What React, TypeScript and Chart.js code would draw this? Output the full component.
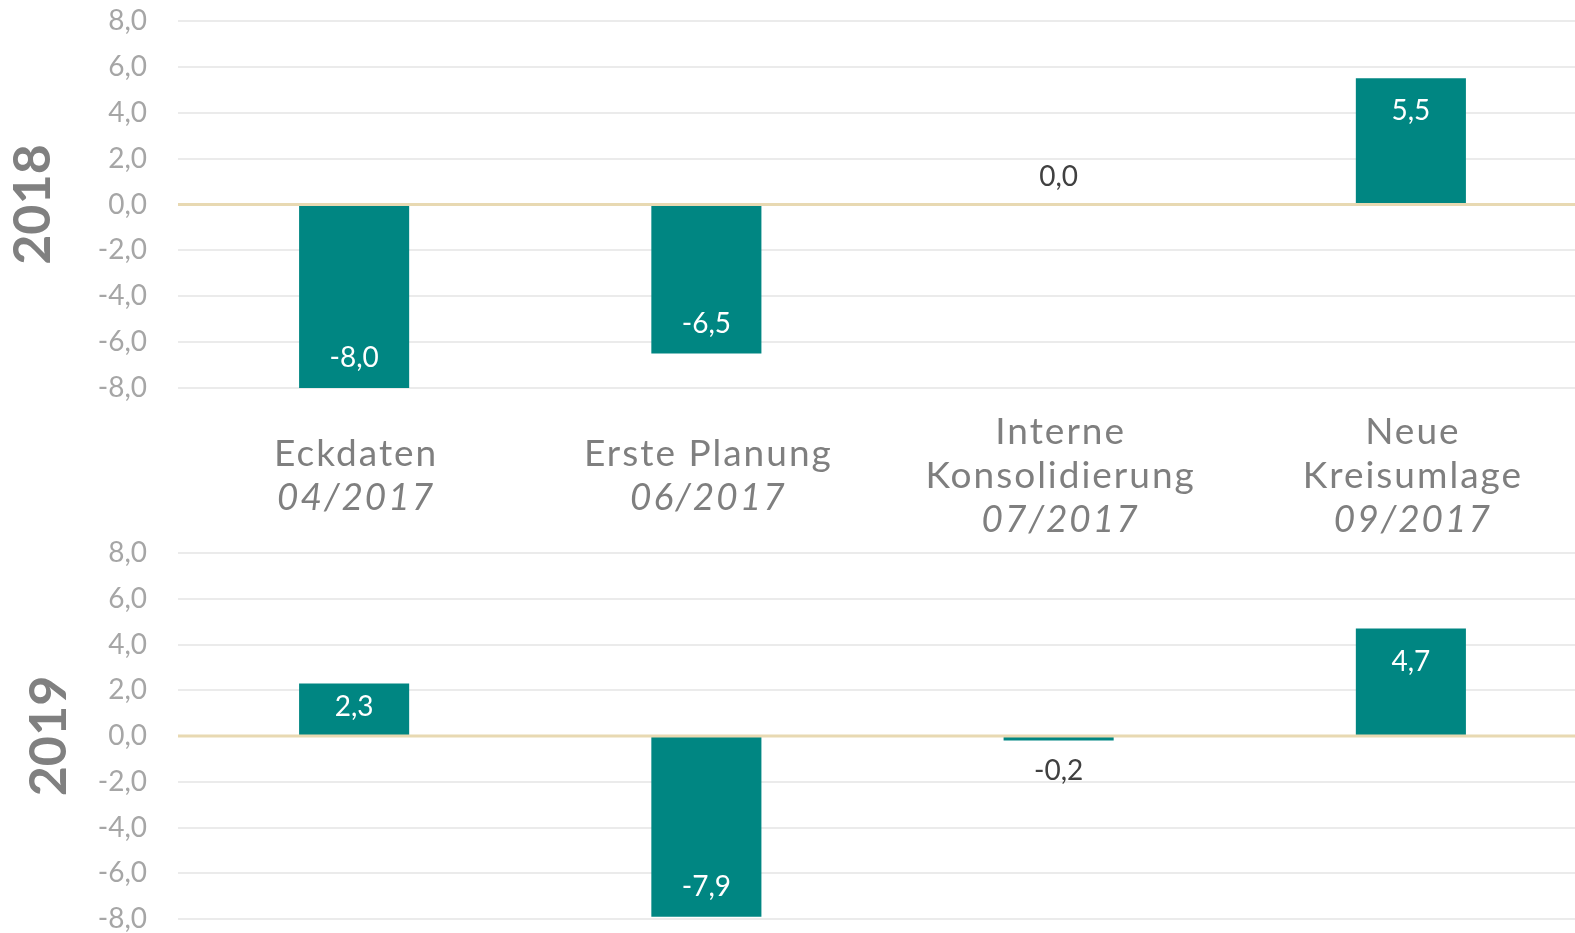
import React, { useEffect, useRef } from 'react';
import { Chart, registerables } from 'chart.js';

Chart.register(...registerables);

const categories = ['Eckdaten', 'Erste Planung', 'Interne\nKonsolidierung', 'Neue\nKreisumlage'];
const periods = ['04/2017', '06/2017', '07/2017', '09/2017'];
const values2018 = [-8.0, -6.5, 0.0, 5.5];
const values2019 = [2.3, -7.9, -0.2, 4.7];
const yearTitles = ['2018', '2019'];
const yTicks = [-8, -6, -4, -2, 0, 2, 4, 6, 8];

const BAR = '#008682';
const fmt = (v: number) => v.toFixed(1).replace('.', ',');

const overlayPlugin = (showCategories: boolean) => ({
  id: 'overlay' + (showCategories ? 'Top' : 'Bottom'),
  afterDatasetsDraw(chart: any) {
    const { ctx, chartArea, scales } = chart;
    const y = scales.y;
    const y0 = y.getPixelForValue(0);
    ctx.save();
    ctx.strokeStyle = '#e8d9b2';
    ctx.lineWidth = 3;
    ctx.beginPath();
    ctx.moveTo(chartArea.left, y0);
    ctx.lineTo(chartArea.right, y0);
    ctx.stroke();
    const meta = chart.getDatasetMeta(0);
    const data = chart.data.datasets[0].data as number[];
    ctx.font = '28px Lato';
    ctx.textAlign = 'center';
    ctx.textBaseline = 'middle';
    meta.data.forEach((bar: any, i: number) => {
      const v = data[i];
      const end = bar.y;
      const h = Math.abs(end - y0);
      const dir = v >= 0 ? 1 : -1;
      if (Math.abs(v) >= 1) {
        const off = Math.min(v >= 0 ? 33 : 30, h / 2 - 3);
        ctx.fillStyle = '#ffffff';
        ctx.fillText(fmt(v), bar.x, end + dir * off);
      } else {
        ctx.fillStyle = '#404040';
        ctx.fillText(fmt(v), bar.x, end - dir * 29 + 1);
      }
    });
    ctx.restore();
  },
  afterDraw(chart: any) {
    if (!showCategories) return;
    const { ctx, scales } = chart;
    const x = scales.x;
    const lh = 44;
    const centerY = 476;
    ctx.save();
    ctx.fillStyle = '#7f7f7f';
    ctx.textAlign = 'center';
    ctx.textBaseline = 'middle';
    try { (ctx as any).letterSpacing = '2px'; } catch (e) {}
    categories.forEach((c, i) => {
      const lines = c.split('\n');
      const all = [...lines, periods[i]];
      const startY = centerY - ((all.length - 1) * lh) / 2;
      const px = x.getPixelForValue(i);
      all.forEach((t, j) => {
        ctx.font = (j === all.length - 1 ? 'italic ' : '') + '37px Lato';
        ctx.fillText(t, px + 2, startY + j * lh);
      });
    });
    ctx.restore();
  },
});

function makeConfig(values: number[], title: string, titlePad: number, top: number, xHeight: number, showCategories: boolean): any {
  return {
    type: 'bar',
    data: {
      labels: categories,
      datasets: [
        {
          data: values,
          backgroundColor: BAR,
          borderWidth: 0,
          barPercentage: 0.3125,
          categoryPercentage: 1,
        },
      ],
    },
    options: {
      animation: false,
      responsive: false,
      maintainAspectRatio: false,
      layout: { padding: { top, right: 0, bottom: 0, left: 0 } },
      plugins: { legend: { display: false }, tooltip: { enabled: false } },
      scales: {
        x: {
          type: 'category',
          offset: true,
          grid: { display: false },
          border: { display: false },
          ticks: { display: false },
          afterFit: (s: any) => {
            s.height = xHeight;
          },
        },
        y: {
          min: -8,
          max: 8,
          afterBuildTicks: (s: any) => {
            s.ticks = yTicks.map((v) => ({ value: v }));
          },
          ticks: {
            padding: 0,
            color: '#a6a6a6',
            font: { family: 'Lato', size: 28 },
            callback: (v: any) => fmt(Number(v)),
          },
          grid: {
            drawTicks: true,
            tickLength: 31,
            tickColor: 'rgba(0,0,0,0)',
            color: (c: any) => (c.tick && c.tick.value === 0 ? 'rgba(0,0,0,0)' : '#ebebeb'),
            lineWidth: 2,
          },
          border: { display: false },
          title: {
            display: true,
            text: title,
            color: '#808080',
            font: { family: 'Lato', size: 52, weight: 'bold' },
            padding: { top: titlePad, bottom: 0 },
          },
          afterFit: (s: any) => {
            s.width = 178;
          },
        },
      },
    },
    plugins: [overlayPlugin(showCategories)],
  };
}

export default function App() {
  const topRef = useRef<HTMLCanvasElement>(null);
  const botRef = useRef<HTMLCanvasElement>(null);

  useEffect(() => {
    const c1 = new Chart(topRef.current as HTMLCanvasElement, makeConfig(values2018, yearTitles[0], 2, 21, 545 - 388, true));
    const c2 = new Chart(botRef.current as HTMLCanvasElement, makeConfig(values2019, yearTitles[1], 18, 53, 450 - (919 - 500), false));
    return () => {
      c1.destroy();
      c2.destroy();
    };
  }, []);

  return (
    <div style={{ position: 'fixed', left: 0, top: 0, width: 1575, height: 933, overflow: 'hidden', background: '#ffffff' }}>
      <canvas ref={topRef} width={1587} height={545} style={{ position: 'absolute', left: 0, top: 0, width: 1587, height: 545 }} />
      <canvas ref={botRef} width={1587} height={450} style={{ position: 'absolute', left: 0, top: 500, width: 1587, height: 450 }} />
    </div>
  );
}
